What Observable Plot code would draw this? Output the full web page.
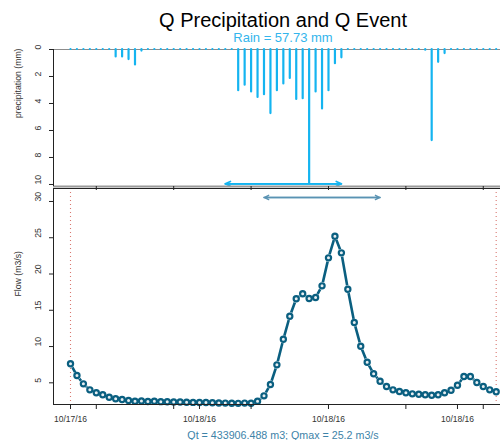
<!DOCTYPE html>
<html><head><meta charset="utf-8">
<script src="https://cdn.jsdelivr.net/npm/d3@7"></script>
<script src="https://cdn.jsdelivr.net/npm/@observablehq/plot@0.6"></script>
<style>
body{margin:0;background:#fff;}
#c{position:relative;width:500px;height:440px;overflow:hidden;font-family:"Liberation Sans",Arial,sans-serif;}
#c > div, #c > svg{position:absolute;}
.t{left:53px;width:460px;text-align:center;white-space:nowrap;}
</style></head><body><div id="c"></div>
<script>
const title = "Q Precipitation and Q Event";
const subtitle = "Rain = 57.73 mm";
const caption = "Qt = 433906.488 m3; Qmax = 25.2 m3/s";
const rainLabel = "precipitation (mm)";
const flowLabel = "Flow (m3/s)";

// rain (mm) per 15-min step, 67 steps
const rain = [0,0,0,0,0,0,0, 0.55,0.55,0.75,1.15,0.12,
  0,0,0,0,0,0,0,0,0,0,0,0,0,0,
  3.05,2.65,3.15,3.55,3.35,4.75,3.05,2.55,2.15,3.7,3.65,9.9,3.15,4.4,3.05,1.05,0.62,
  0,0,0,0,0,0,0,0,0,0,0,0,
  0.05, 6.75,0.95,0.3,
  0,0,0,0,0,0,0,0];
// flow (m3/s) per step
const flow = [7.62,6.0,4.86,4.03,3.62,3.35,3.0,2.8,2.7,2.56,2.46,
  2.5,2.42,2.45,2.4,2.38,2.36,2.35,2.32,2.3,2.28,2.28,2.25,2.22,2.2,2.18,2.17,2.2,
  2.19,2.46,3.2,4.77,7.48,11.0,14.18,16.58,17.27,16.62,16.76,
  18.37,22.23,25.2,22.92,17.9,13.31,10.05,7.84,6.24,5.22,
  4.49,4.03,3.8,3.62,3.48,3.43,3.35,3.29,3.35,3.62,
  3.98,4.67,5.87,5.87,5.04,4.49,4.03,3.76];

const xTickIdx = [0,20,40,60];
const xTickLabels = ["10/17/16","10/18/16","10/18/16","10/18/16"];
const minorTickIdx = [4,16,28,40,52,64];
const rainTicks = [0,2,4,6,8,10];
const flowTicks = [5,10,15,20,25,30];
const rainEvent = [24,42];
const flowEvent = [30,48];
const windowIdx = [0,66];

const rainData = rain.map((v,i)=>({i, v}));
const flowData = flow.map((q,i)=>({i, q}));

const FONT = "Liberation Sans, Arial, sans-serif";
const xDom = [-2.636, 66.67];
const rainDom = [0, 10.15];
const flowDom = [2.01, 31.79];
const qColor = "#0a5f80";
const rColor = "#14b4f0";

const c = document.getElementById("c");

const topPlot = Plot.plot({
  width:500, height:195, marginTop:49, marginBottom:9, marginLeft:53, marginRight:0,
  style:{fontFamily:FONT, background:"transparent", overflow:"visible"},
  x:{domain:xDom, axis:null},
  y:{domain:rainDom, reverse:true, axis:null},
  marks:[
    Plot.ruleY([0], {stroke:"#8c8c8c", strokeWidth:1}),
    Plot.ruleX(rainData, {x:"i", y1:0, y2:"v", stroke:rColor, strokeWidth:2.2, strokeLinecap:"round"}),
    Plot.arrow([rainEvent], {x1:d=>d[0], x2:d=>d[1], y1:9.95, y2:9.95, stroke:rColor, strokeWidth:1.7, headLength:5, headAngle:50}),
    Plot.arrow([rainEvent], {x1:d=>d[1], x2:d=>d[0], y1:9.95, y2:9.95, stroke:rColor, strokeWidth:1.7, headLength:5, headAngle:50}),
    Plot.ruleY([rainDom[1]], {stroke:"#9a9a9a", strokeWidth:2}),
    Plot.ruleX([xDom[0]], {stroke:"#222", strokeWidth:1}),
    Plot.axisY({ticks:rainTicks, tickSize:4, tickFormat:()=>"", label:null, stroke:"#222"}),
    Plot.text(rainTicks, {y:d=>d, text:d=>String(d), frameAnchor:"left", dx:-15, rotate:-90, fontSize:8.7, fill:"#333"}),
    Plot.text([rainLabel], {text:d=>d, frameAnchor:"left", dx:-35, rotate:-90, fontSize:8.7, fill:"#333"}),
    Plot.axisX({ticks:minorTickIdx, tickSize:4, tickFormat:()=>"", label:null, anchor:"bottom", stroke:"#222"})
  ]
});
topPlot.style.left = "0px"; topPlot.style.top = "0px";

const botPlot = Plot.plot({
  width:500, height:260, marginTop:8, marginBottom:36, marginLeft:53, marginRight:0,
  style:{fontFamily:FONT, background:"transparent", overflow:"visible"},
  x:{domain:xDom, axis:null},
  y:{domain:flowDom, axis:null},
  marks:[
    Plot.ruleX(windowIdx, {x:d=>d, stroke:"#d9776f", strokeDasharray:"1,3", strokeWidth:1.1}),
    Plot.line(flowData, {x:"i", y:"q", stroke:qColor, strokeWidth:2.6}),
    Plot.dot(flowData, {x:"i", y:"q", r:3.9, fill:"white", stroke:"none"}),
    Plot.dot(flowData, {x:"i", y:"q", r:2.6, fill:"#e8eef1", stroke:qColor, strokeWidth:2.2}),
    Plot.arrow([flowEvent], {x1:d=>d[0], x2:d=>d[1], y1:30.55, y2:30.55, stroke:"#5a93b3", strokeWidth:1.3, headLength:6, headAngle:50}),
    Plot.arrow([flowEvent], {x1:d=>d[1], x2:d=>d[0], y1:30.55, y2:30.55, stroke:"#5a93b3", strokeWidth:1.3, headLength:6, headAngle:50}),
    Plot.ruleX([xDom[0]], {stroke:"#222", strokeWidth:1}),
    Plot.ruleY([flowDom[0], flowDom[1]], {stroke:"#222", strokeWidth:1}),
    Plot.axisY({ticks:flowTicks, tickSize:4, tickFormat:()=>"", label:null, stroke:"#222"}),
    Plot.text(flowTicks, {y:d=>d, text:d=>String(d), frameAnchor:"left", dx:-15, rotate:-90, fontSize:8.7, fill:"#333"}),
    Plot.text([flowLabel], {text:d=>d, frameAnchor:"left", dx:-35, rotate:-90, fontSize:8.7, fill:"#333"}),
    Plot.axisX({ticks:minorTickIdx.concat(xTickIdx), tickSize:5, tickFormat:()=>"", label:null, anchor:"bottom", stroke:"#222"}),
    Plot.text(xTickIdx, {x:d=>d, text:(d,i)=>xTickLabels[i], frameAnchor:"bottom", dy:17, fontSize:8.5, fill:"#333"})
  ]
});
botPlot.style.left = "0px"; botPlot.style.top = "180px";

c.appendChild(botPlot);
c.appendChild(topPlot);

function addText(txt, top, size, color){
  const d = document.createElement("div");
  d.className = "t";
  d.textContent = txt;
  d.style.top = top + "px";
  d.style.fontSize = size + "px";
  d.style.lineHeight = size + "px";
  d.style.color = color;
  c.appendChild(d);
}
addText(title, 9.8, 20, "#000");
addText(subtitle, 31, 13, "#33b5ec");
addText(caption, 429.5, 10.7, "#3d83a8");
</script></body></html>
